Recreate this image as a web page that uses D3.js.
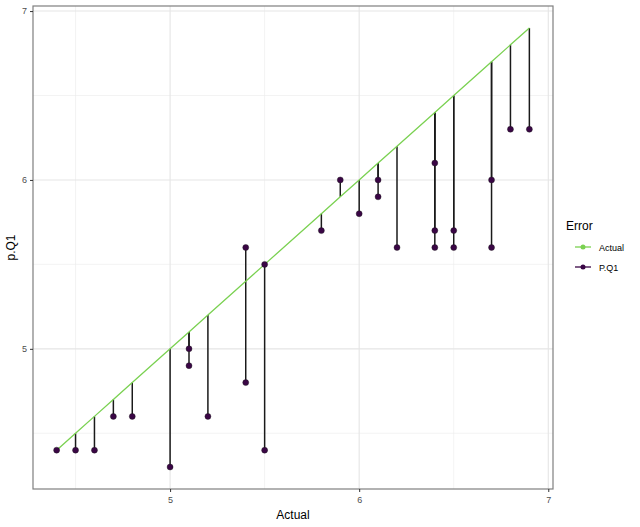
<!DOCTYPE html>
<html><head><meta charset="utf-8">
<script src="https://cdn.jsdelivr.net/npm/d3@7/dist/d3.min.js"></script>
<style>body{margin:0;background:#fff}svg{display:block}text{font-family:"Liberation Sans",Arial,sans-serif}</style>
</head><body><svg id="c" width="640" height="527"></svg>
<script>
// data: each row = actual value and predicted value (P.Q1)
const actual = [4.4,4.5,4.6,4.7,4.8,5.0,5.1,5.1,5.2,5.4,5.4,5.5,5.5,5.8,5.9,6.0,6.1,6.1,6.2,6.4,6.4,6.4,6.5,6.5,6.7,6.7,6.8,6.9];
const predQ1 = [4.4,4.4,4.4,4.6,4.6,4.3,5.0,4.9,4.6,5.6,4.8,5.5,4.4,5.7,6.0,5.8,6.0,5.9,5.6,6.1,5.7,5.6,5.7,5.6,6.0,5.6,6.3,6.3];
const xTicks = [5,6,7];
const yTicks = [5,6,7];
const minorTicks = [4.5,5.5,6.5];
const seriesNames = ["Actual","P.Q1"];
const seriesColors = ["#7AD151","#3a0645"];

const svg = d3.select("#c");
const L=33,R=553,T=6,B=489;
const allX = actual, allY = actual.concat(predQ1);
const xr = d3.extent(allX), yr = d3.extent(allY);
const xe = (xr[1]-xr[0])*0.05, ye=(yr[1]-yr[0])*0.05;
const x = d3.scaleLinear().domain([xr[0]-xe,xr[1]+xe]).range([L,R]);
const y = d3.scaleLinear().domain([yr[0]-ye,yr[1]+ye]).range([B,T]);

const g = svg.append("g");
// grid
g.selectAll(".gmx").data(minorTicks).join("line").attr("x1",d=>x(d)).attr("x2",d=>x(d)).attr("y1",T).attr("y2",B).attr("stroke","#ebebeb").attr("stroke-width",0.6);
g.selectAll(".gmy").data(minorTicks).join("line").attr("y1",d=>y(d)).attr("y2",d=>y(d)).attr("x1",L).attr("x2",R).attr("stroke","#ebebeb").attr("stroke-width",0.6);
g.selectAll(".gx").data(xTicks).join("line").attr("x1",d=>x(d)).attr("x2",d=>x(d)).attr("y1",T).attr("y2",B).attr("stroke","#e5e5e5").attr("stroke-width",1.1);
g.selectAll(".gy").data(yTicks).join("line").attr("y1",d=>y(d)).attr("y2",d=>y(d)).attr("x1",L).attr("x2",R).attr("stroke","#e5e5e5").attr("stroke-width",1.1);

// segments
const rows = actual.map((a,i)=>({a, p:predQ1[i]}));
g.selectAll(".seg").data(rows).join("line")
  .attr("x1",d=>x(d.a)).attr("x2",d=>x(d.a)).attr("y1",d=>y(d.a)).attr("y2",d=>y(d.p))
  .attr("stroke","#1a1a1a").attr("stroke-width",1.5);
// actual line
const uniq = Array.from(new Set(actual)).sort((a,b)=>a-b);
g.append("path").datum(uniq).attr("d",d3.line().x(d=>x(d)).y(d=>y(d)))
  .attr("fill","none").attr("stroke",seriesColors[0]).attr("stroke-width",1.3);
// points
g.selectAll(".pt").data(rows).join("circle").attr("cx",d=>x(d.a)).attr("cy",d=>y(d.p)).attr("r",3)
  .attr("fill",seriesColors[1]).attr("stroke","#1a1a1a").attr("stroke-width",0.4);

// border
svg.append("rect").attr("x",L).attr("y",T).attr("width",R-L).attr("height",B-T).attr("fill","none").attr("stroke","#7f7f7f").attr("stroke-width",1.2);

// axes
const xa = svg.append("g").attr("transform",`translate(0,${B})`).call(d3.axisBottom(x).tickValues(xTicks).tickSize(3).tickFormat(d3.format("d")));
const ya = svg.append("g").attr("transform",`translate(${L},0)`).call(d3.axisLeft(y).tickValues(yTicks).tickSize(3).tickFormat(d3.format("d")));
[xa,ya].forEach(a=>{a.select(".domain").remove();a.selectAll("line").attr("stroke","#333");a.selectAll("text").attr("fill","#4d4d4d").attr("font-size",9).style("font-family","Liberation Sans, Arial, sans-serif");});
xa.selectAll("text").attr("dy","0.9em");

svg.append("text").attr("x",(L+R)/2).attr("y",519).attr("text-anchor","middle").attr("font-size",12).attr("fill","#000").text("Actual");
svg.append("text").attr("transform",`translate(15,${(T+B)/2}) rotate(-90)`).attr("text-anchor","middle").attr("font-size",12).attr("fill","#000").text("p.Q1");

// legend
const lg = svg.append("g");
lg.append("text").attr("x",566).attr("y",230).attr("font-size",12).text("Error");
seriesNames.forEach((n,i)=>{
  const yy = 247+i*20;
  lg.append("line").attr("x1",575).attr("x2",591).attr("y1",yy).attr("y2",yy).attr("stroke",seriesColors[i]).attr("stroke-width",1.3);
  lg.append("circle").attr("cx",583).attr("cy",yy).attr("r",2.5).attr("fill",seriesColors[i]);
  lg.append("text").attr("x",599).attr("y",yy+3.5).attr("font-size",9).attr("fill","#000").text(n);
});
</script></body></html>
